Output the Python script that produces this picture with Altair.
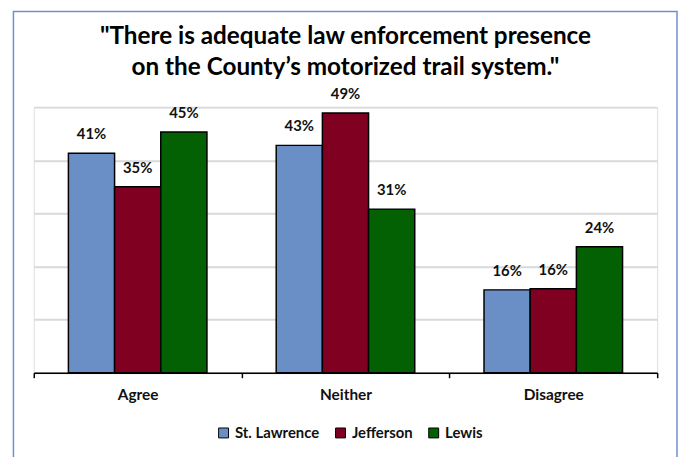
import altair as alt
import pandas as pd

categories = ["Agree", "Neither", "Disagree"]
series = ["St. Lawrence", "Jefferson", "Lewis"]
st_lawrence = [41.3, 42.8, 15.6]
jefferson = [35.0, 48.9, 15.8]
lewis = [45.3, 30.8, 23.7]
colors = ["#6a8fc6", "#800022", "#036003"]

rows = []
for i, c in enumerate(categories):
    for s, vals in zip(series, [st_lawrence, jefferson, lewis]):
        rows.append({"category": c, "county": s, "value": vals[i]})
df = pd.DataFrame(rows)

FONT = "Lato"
W, H = 629, 268

x = alt.X("category:N", sort=categories, title=None,
          scale=alt.Scale(paddingInner=0, paddingOuter=0),
          axis=alt.Axis(labelAngle=0, tickBand="extent", tickSize=5, tickColor="black",
                        tickWidth=1.5, domainColor="black", domainWidth=1.5,
                        labelFont=FONT, labelFontSize=15.5, labelFontWeight="bold",
                        labelColor="#111111", labelPadding=10, grid=False))
xoff = alt.XOffset("county:N", sort=series, scale=alt.Scale(paddingOuter=0.75, paddingInner=0))
y = alt.Y("value:Q", title=None, scale=alt.Scale(domain=[0, 50], nice=False),
          axis=alt.Axis(values=[0, 10, 20, 30, 40, 50], labels=False, ticks=False, domain=False,
                        grid=True, gridColor="#d9d9d9", gridWidth=2))
color = alt.Color("county:N", sort=series, title=None,
                  scale=alt.Scale(domain=series, range=colors),
                  legend=alt.Legend(orient="none", direction="horizontal", legendX=184, legendY=321,
                                    symbolType="square", symbolSize=100, symbolStrokeColor="black",
                                    symbolStrokeWidth=1, labelFont=FONT, labelFontSize=15,
                                    labelFontWeight="bold", labelColor="#111111",
                                    labelOffset=4, columnPadding=13, symbolOpacity=1))

base = alt.Chart(df)
bars = base.mark_bar(stroke="black", strokeWidth=1.5).encode(x=x, xOffset=xoff, y=y, color=color)
labels = base.transform_calculate(lbl="format(datum.value, '.0f') + '%'").mark_text(
    baseline="bottom", dy=-11, font=FONT, fontSize=15, fontWeight="bold", color="#111111").encode(
    x=alt.X("category:N", sort=categories), xOffset=alt.XOffset("county:N", sort=series),
    y="value:Q", text="lbl:N")

frame = alt.Chart(alt.Data(values=[{"a": 1}])).mark_rect(
    fill=None, stroke="#6f8fd0", strokeWidth=1.5).encode(
    x=alt.value(-20.5), x2=alt.value(649), y=alt.value(-96.5), y2=alt.value(420))

chart = alt.layer(bars, labels, frame).properties(
    width=W, height=H,
    title=alt.Title(['"There is adequate law enforcement presence',
                     'on the County\u2019s motorized trail system."'],
                    font=FONT, fontSize=24.5, fontWeight="bold", color="#000000",
                    lineHeight=31, anchor="middle", offset=-70),
    autosize=alt.AutoSizeParams(type="none"),
    padding={"left": 26, "top": 98, "right": 21, "bottom": 83},
).configure_view(stroke=None).configure(background="white")

chart.save("out.html", embed_options={"renderer": "svg", "actions": False})
